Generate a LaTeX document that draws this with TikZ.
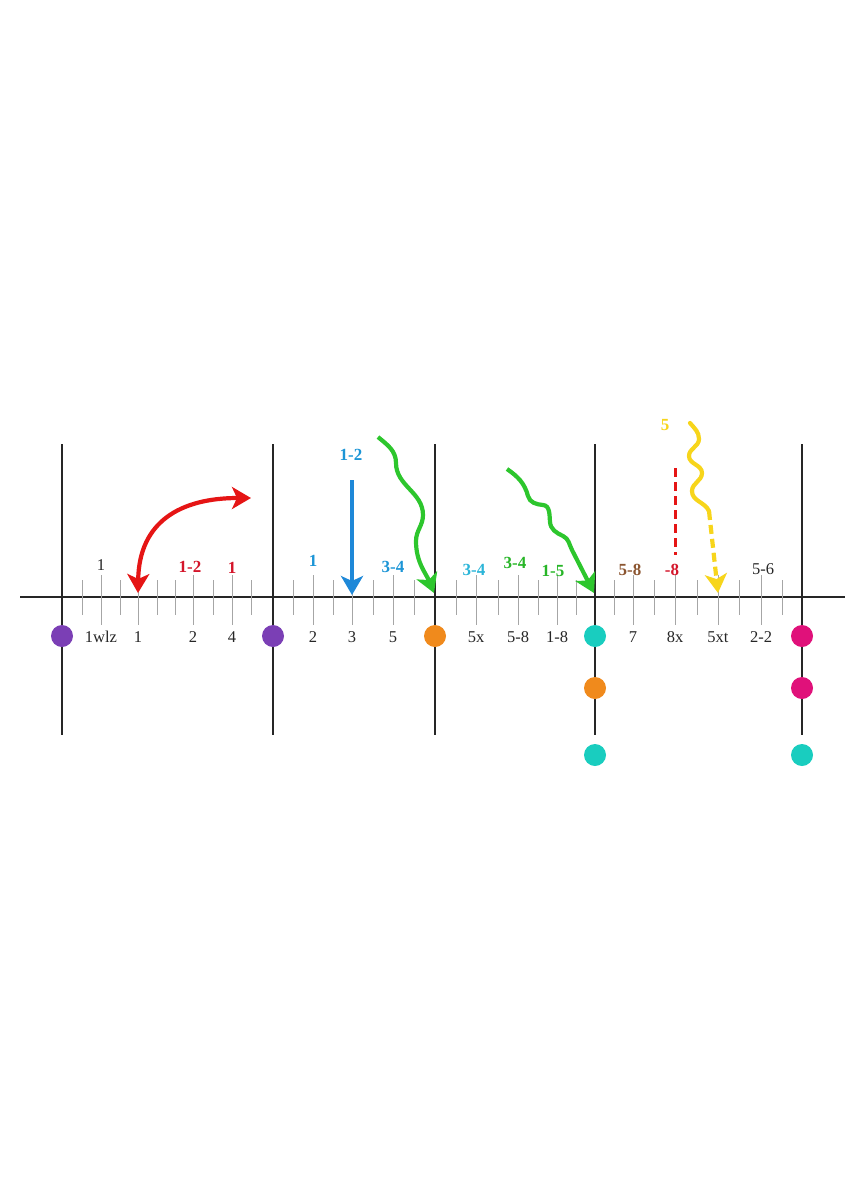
\documentclass[tikz,border=0pt]{standalone}
\usepackage{fontspec}
\setmainfont{Liberation Serif}
\usetikzlibrary{arrows.meta,calc}

\definecolor{dotpurple}{RGB}{123,63,181}
\definecolor{dotorange}{RGB}{240,138,28}
\definecolor{dotcyan}{RGB}{25,205,191}
\definecolor{dotmagenta}{RGB}{224,17,122}
\definecolor{arrred}{RGB}{229,21,21}
\definecolor{labred}{RGB}{212,21,42}
\definecolor{arrblue}{RGB}{30,136,216}
\definecolor{labblue}{RGB}{28,149,214}
\definecolor{labcyan}{RGB}{43,181,216}
\definecolor{arrgreen}{RGB}{45,198,45}
\definecolor{labgreen}{RGB}{39,181,39}
\definecolor{arryellow}{RGB}{247,213,27}
\definecolor{labbrown}{RGB}{139,85,48}

\begin{document}
\begin{tikzpicture}[x=1pt, y=-1pt]
\tikzset{dotnode/.style={circle,fill,inner sep=0,minimum size=22pt},
barline/.style={line width=2pt,black!85},
tickline/.style={line width=0.9pt,black!35},
numlabel/.style={font=\fontsize{16.5}{19}\selectfont,text=black!85,inner sep=0},
toplabel/.style={font=\fontsize{17}{20}\selectfont\bfseries,inner sep=0},
fatline/.style={line width=4.2pt},
bigtip/.style={-{Stealth[length=19pt,width=22pt,inset=5pt]}}}

\useasboundingbox (0,0) rectangle (864,1184);

%% Axis and bars
\coordinate (axl) at (20,597);
\coordinate (axr) at (845,597);
\draw[barline] (axl) -- (axr);
\foreach \u/\x in {v0/62, v1/273, v2/435, v3/595, v4/802} {
  \coordinate (\u top) at (\x,444);
  \coordinate (\u bot) at (\x,735);
  \draw[barline] (\u top) -- (\u bot);
}

%% Ticks
\foreach \x in {82,120,157,175,213,251,293,333,373,414,456,498,538,576,614,654,697,739,782}
  \draw[tickline] (\x,580) -- (\x,615);
\foreach \u/\x in {t1/101, t2/138, t3/193, t4/232, t5/313, t6/352, t7/393,
                   t8/476, t9/518, t10/557, t11/633, t12/675, t13/718, t14/761} {
  \coordinate (\u) at (\x,597);
  \draw[tickline] (\x,575) -- (\x,625);
}

%% Labels under the axis
\foreach \u/\lab in {t1/1wlz, t2/1, t3/2, t4/4, t5/2, t6/3, t7/5, t8/5x,
                     t9/5-8, t10/1-8, t11/7, t12/8x, t13/5xt, t14/2-2}
  \node (\u b) [numlabel] at ($(\u) + (0,40)$) {\lab};

%% Labels over the axis
\node (t1a) [numlabel] at ($(t1) + (0,-32)$) {1};
\node (t3a) [toplabel,text=labred] at ($(t3) + (-3,-30)$) {1-2};
\node (t4a) [toplabel,text=labred] at ($(t4) + (0,-29)$) {1};
\node (t5a) [toplabel,text=labblue] at ($(t5) + (0,-36)$) {1};
\node (t7a) [toplabel,text=labblue] at ($(t7) + (0,-30)$) {3-4};
\node (t8a) [toplabel,text=labcyan] at ($(t8) + (-2,-27)$) {3-4};
\node (t9a) [toplabel,text=labgreen] at ($(t9) + (-3,-34)$) {3-4};
\node (t10a) [toplabel,text=labgreen] at ($(t10) + (-4,-26)$) {1-5};
\node (t11a) [toplabel,text=labbrown] at ($(t11) + (-3,-27)$) {5-8};
\node (t12a) [toplabel,text=labred] at ($(t12) + (-3,-27)$) {-8};
\node (t14a) [numlabel] at ($(t14) + (2,-28)$) {5-6};

%% Dots
\node (d0) [dotnode,fill=dotpurple] at (62,636) {};
\node (d1) [dotnode,fill=dotpurple] at (273,636) {};
\node (d2) [dotnode,fill=dotorange] at (435,636) {};
\node (d3) [dotnode,fill=dotcyan] at (595,636) {};
\node (d4) [dotnode,fill=dotorange] at (595,688) {};
\node (d5) [dotnode,fill=dotcyan] at (595,755) {};
\node (d6) [dotnode,fill=dotmagenta] at (802,636) {};
\node (d7) [dotnode,fill=dotmagenta] at (802,688) {};
\node (d8) [dotnode,fill=dotcyan] at (802,755) {};

%% Red swing
\coordinate (redtip) at (138,593);
\coordinate (redend) at (251,498);
\draw[fatline,arrred,{Stealth[length=19pt,width=22pt,inset=5pt]}-{Stealth[length=19pt,width=22pt,inset=5pt]}]
  (redtip) .. controls (139,522) and (180,498) .. (redend);

%% Blue drop
\coordinate (bluestart) at (352,480);
\node (bluelab) [toplabel,text=labblue] at (351,455) {1-2};
\draw[fatline,arrblue,bigtip] (bluestart) -- ($(t6) + (0,-2)$);

%% Green waves
\coordinate (g1s) at (378,437);
\coordinate (g1e) at (434,593);
\draw[fatline,arrgreen,bigtip] (g1s) to[out=-40,in=90] (396,463) to[out=-90,in=90] (423,515)
  to[out=-90,in=90] (416,541) to[out=-90,in=112] (g1e);
\coordinate (g2s) at (507,469);
\coordinate (g2e) at (594,593);
\draw[fatline,arrgreen,bigtip] (g2s) to[out=-35,in=105] (528,496) to[out=-75,in=175] (543,505)
  to[out=-5,in=95] (550,522) to[out=-85,in=155] (563,536) to[out=-25,in=117] (572,550) -- (g2e);

%% Yellow wave and red dash
\coordinate (redtop) at (675,468);
\coordinate (redbot) at (675,555);
\draw[line width=3pt,arrred,dash pattern=on 9pt off 5pt] (redtop) -- (redbot);
\node (yellab) [toplabel,text=arryellow] at (665,425) {5};
\coordinate (yws) at (690,423);
\coordinate (ywe) at (709,511);
\draw[fatline,arryellow,line cap=round] (yws) to[out=-50,in=90] (699,439) to[out=-90,in=90] (689,456)
  to[out=-90,in=90] (702,473) to[out=-90,in=90] (692,491) to[out=-90,in=115] (ywe);
\draw[fatline,arryellow,dash pattern=on 9pt off 5pt,bigtip] (ywe) -- ($(t13) + (0,-4)$);

\end{tikzpicture}
\end{document}
